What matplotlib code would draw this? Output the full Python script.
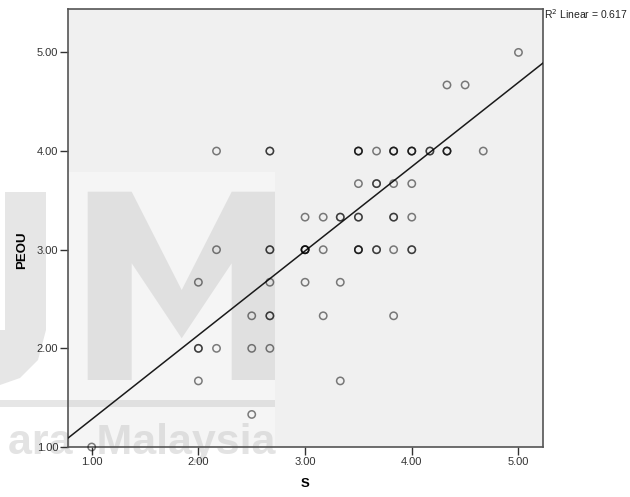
import matplotlib
matplotlib.use("Agg")
import matplotlib.pyplot as plt
import numpy as np
from matplotlib.patches import Polygon, Rectangle

plt.rcParams['font.family'] = ['Liberation Sans', 'DejaVu Sans']

# Data (S, PEOU, number of overlapping cases)
s_vals = [5.00, 4.33, 4.50,
          2.17, 2.67, 3.50, 3.67, 3.83, 4.00, 4.17, 4.33, 4.67,
          3.50, 3.67, 3.83, 4.00,
          3.00, 3.17, 3.33, 3.50, 3.83, 4.00,
          2.17, 2.67, 3.00, 3.17, 3.50, 3.67, 3.83, 4.00,
          2.00, 2.67, 3.00, 3.33,
          2.50, 2.67, 3.17, 3.83,
          2.00, 2.17, 2.50, 2.67,
          2.00, 3.33,
          2.50,
          1.00]
peou_vals = [5.00, 4.67, 4.67,
             4.00, 4.00, 4.00, 4.00, 4.00, 4.00, 4.00, 4.00, 4.00,
             3.67, 3.67, 3.67, 3.67,
             3.33, 3.33, 3.33, 3.33, 3.33, 3.33,
             3.00, 3.00, 3.00, 3.00, 3.00, 3.00, 3.00, 3.00,
             2.67, 2.67, 2.67, 2.67,
             2.33, 2.33, 2.33, 2.33,
             2.00, 2.00, 2.00, 2.00,
             1.67, 1.67,
             1.33,
             1.00]
counts = [1, 1, 1,
          1, 2, 3, 1, 3, 3, 2, 3, 1,
          1, 2, 1, 1,
          1, 1, 2, 2, 2, 1,
          1, 2, 4, 1, 3, 2, 1, 2,
          1, 1, 1, 1,
          1, 2, 1, 1,
          2, 1, 1, 1,
          1, 1,
          1,
          1]

fit_intercept = 0.426
fit_slope = 0.854
r2_label = "R$^2$ Linear = 0.617"

x_ticks = [1, 2, 3, 4, 5]
y_ticks = [1, 2, 3, 4, 5]
x_label = "S"
y_label = "PEOU"
watermark = "ara  Malaysia"

W, H = 630, 497
fig = plt.figure(figsize=(W / 100, H / 100), dpi=100)
fig.patch.set_facecolor('white')
ax = fig.add_axes([68 / W, 1 - 447 / H, (543 - 68) / W, (447 - 9) / H])
ax.set_facecolor('#f0f0f0')
ax.set_xlim(0.778, 5.23)
ax.set_ylim(1.0, 5.44)

# expand overlapping cases
xs = np.repeat(np.array(s_vals), counts)
ys = np.repeat(np.array(peou_vals), counts)
ax.scatter(xs, ys, s=28, facecolors='none', edgecolors=(0, 0, 0, 0.5),
           linewidths=1.1, zorder=3, clip_on=False)

xl = np.array(ax.get_xlim())
ax.plot(xl, fit_intercept + fit_slope * xl, color='#1a1a1a', lw=1.1, zorder=2.6)

ax.set_xticks(x_ticks)
ax.set_yticks(y_ticks)
ax.set_xticklabels([f"{v:.2f}" for v in x_ticks])
ax.set_yticklabels([f"{v:.2f}" for v in y_ticks])
ax.tick_params(direction='out', length=6, width=1, color='#333333',
               labelsize=8, labelcolor='#333333', pad=1)
for sp in ax.spines.values():
    sp.set_color('#555555')
    sp.set_linewidth(1.2)

fig.text(305 / W, 1 - 484 / H, x_label, fontsize=9.5, fontweight='bold',
         ha='center', va='center')
fig.text(22 / W, 1 - 250 / H, y_label, fontsize=9.5, fontweight='bold',
         ha='center', va='center', rotation=90)
fig.text(544 / W, 1 - 14 / H, r2_label, fontsize=7.5, ha='left', va='center',
         color='#222222')

# faint watermark (background of the scanned thesis page)
tf = fig.transFigure
def P(x, y):
    return (x / W, 1 - y / H)

wm_col = '#c8c8c8'
ax.add_patch(Rectangle(P(68, 460), (275 - 68) / W, (460 - 172) / H, transform=tf,
                       facecolor='white', alpha=0.35, edgecolor='none', zorder=0.5,
                       clip_on=False))
m_pts = [(87.7, 380), (87.7, 191.7), (131.7, 191.7), (181.7, 290), (231.7, 191.7),
         (275, 191.7), (275, 380), (231.7, 380), (231.7, 263.3), (181.7, 338.3),
         (131.7, 263.3), (131.7, 380)]
ax.add_patch(Polygon([P(*p) for p in m_pts], closed=True, transform=tf,
                     facecolor=wm_col, alpha=0.45, edgecolor='none', zorder=0.6,
                     clip_on=False))
ax.add_patch(Rectangle(P(0, 407), 275 / W, 7 / H, transform=tf,
                       facecolor=wm_col, alpha=0.45, edgecolor='none', zorder=0.6,
                       clip_on=False))
u_pts = [(5, 192), (46, 192), (46, 330), (38, 360), (20, 378), (0, 385), (0, 330), (5, 330)]
ax.add_patch(Polygon([P(*p) for p in u_pts], closed=True, transform=tf,
                     facecolor=wm_col, alpha=0.45, edgecolor='none', zorder=0.6,
                     clip_on=False))
ax.text(275 / W, 1 - 443 / H, watermark, transform=tf, fontsize=31,
        fontweight='bold', color=wm_col, alpha=0.5, ha='right', va='center',
        zorder=0.6, clip_on=False)

fig.savefig("out.png", dpi=100, facecolor='white')
